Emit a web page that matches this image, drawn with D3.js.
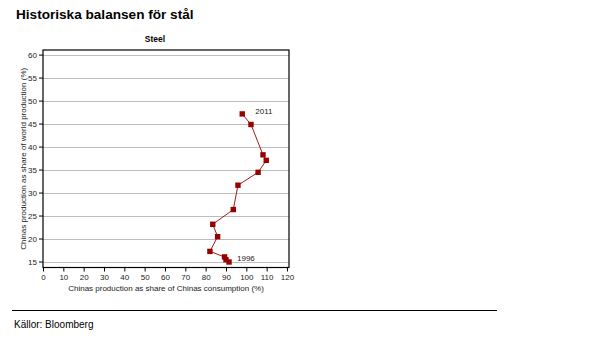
<!DOCTYPE html>
<html><head><meta charset="utf-8">
<script src="https://cdn.jsdelivr.net/npm/d3@7"></script>
<style>
body{margin:0;background:#fff;}
svg{font-family:"Liberation Sans",Arial,sans-serif;}
</style></head>
<body>
<svg id="c" width="612" height="342"></svg>
<script>
// Data (chronological, first = 1996, last = 2011)
const selfSufficiency = [91.5, 90.0, 89.3, 82.1, 85.9, 83.5, 93.6, 95.9, 105.8, 109.8, 108.2, 102.3, 98.0];
const worldShare      = [14.9, 15.4, 16.0, 17.2, 20.4, 23.1, 26.3, 31.6, 34.4, 37.0, 38.2, 44.8, 47.1];
const endLabels = ["1996", "2011"];
const xTicks = [0,10,20,30,40,50,60,70,80,90,100,110,120];
const yTicks = [15,20,25,30,35,40,45,50,55,60];

const svg = d3.select("#c");
const L=43, R=289, T=50, B=267.5;
const x = d3.scaleLinear().domain([0,121]).range([L,R]);
const y = d3.scaleLinear().domain([13.7,61]).range([B,T]);
const red = "#990000";

svg.append("text").attr("x",16).attr("y",19).attr("font-size","13.6px").attr("font-weight","bold").attr("fill","#000").text("Historiska balansen för stål");
svg.append("text").attr("x",(L+R)/2-11).attr("y",42).attr("text-anchor","middle").attr("font-size","8.5px").attr("font-weight","bold").text("Steel");

// grid
svg.append("g").selectAll("line").data(yTicks).join("line")
  .attr("x1",L).attr("x2",R).attr("y1",d=>Math.round(y(d))+0.5).attr("y2",d=>Math.round(y(d))+0.5)
  .attr("stroke","#bdbdbd").attr("stroke-width",1);

// axes
const ya = svg.append("g").attr("transform",`translate(${L},0)`)
  .call(d3.axisLeft(y).tickValues(yTicks).tickSize(4).tickPadding(2));
const xa = svg.append("g").attr("transform",`translate(0,${B})`)
  .call(d3.axisBottom(x).tickValues(xTicks).tickSize(4).tickPadding(3));
[ya,xa].forEach(a=>{a.select(".domain").remove();a.selectAll("text").attr("font-size","8px").attr("fill","#222").attr("font-family","Liberation Sans, Arial, sans-serif");a.selectAll("line").attr("stroke","#000");});

// frame
svg.append("rect").attr("x",L).attr("y",T).attr("width",R-L).attr("height",B-T).attr("fill","none").attr("stroke","#000").attr("stroke-width",1.2);

// axis titles
svg.append("text").attr("x",(L+R)/2).attr("y",291).attr("text-anchor","middle").attr("font-size","8px").attr("fill","#222").text("Chinas production as share of Chinas consumption (%)");
svg.append("text").attr("transform",`translate(25.5,${(T+B)/2}) rotate(-90)`).attr("text-anchor","middle").attr("font-size","8px").attr("fill","#222").text("Chinas production as share of world production (%)");

// line + markers
const pts = selfSufficiency.map((v,i)=>[v,worldShare[i]]);
svg.append("path").datum(pts).attr("fill","none").attr("stroke",red).attr("stroke-width",0.9)
  .attr("d",d3.line().x(d=>x(d[0])).y(d=>y(d[1])));
svg.append("g").selectAll("rect").data(pts).join("rect")
  .attr("x",d=>x(d[0])-2.7).attr("y",d=>y(d[1])-2.7).attr("width",5.4).attr("height",5.4).attr("fill",red);

// end labels
const first = pts[0], last = pts[pts.length-1];
svg.append("text").attr("x",x(first[0])+8).attr("y",y(first[1])-1).attr("font-size","8px").attr("fill","#222").text(endLabels[0]);
svg.append("text").attr("x",x(last[0])+13).attr("y",y(last[1])+0.5).attr("font-size","8px").attr("fill","#222").text(endLabels[1]);

// footer
svg.append("line").attr("x1",12).attr("x2",497).attr("y1",310.5).attr("y2",310.5).attr("stroke","#000").attr("stroke-width",1);
svg.append("text").attr("x",14).attr("y",328).attr("font-size","10px").attr("fill","#000").text("Källor: Bloomberg");
</script>
</body></html>
